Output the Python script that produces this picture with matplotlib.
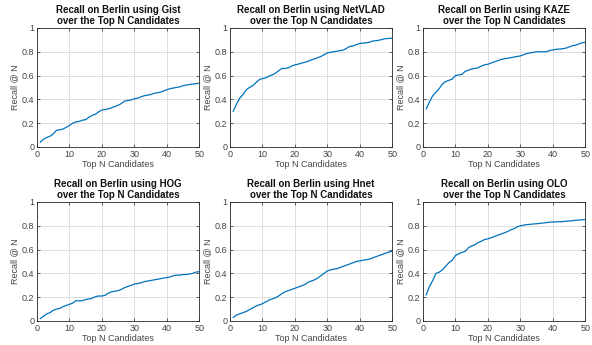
import numpy as np
import matplotlib
matplotlib.use('Agg')
import matplotlib.pyplot as plt

plt.rcParams['font.family'] = ['Liberation Sans', 'DejaVu Sans']

n = np.arange(1, 51)

gist = [0.04, 0.065, 0.08, 0.09, 0.11, 0.14, 0.145, 0.15, 0.165, 0.18,
        0.20, 0.21, 0.215, 0.225, 0.23, 0.25, 0.265, 0.275, 0.295, 0.31,
        0.315, 0.32, 0.33, 0.34, 0.35, 0.365, 0.385, 0.39, 0.395, 0.405,
        0.41, 0.42, 0.43, 0.435, 0.44, 0.45, 0.455, 0.46, 0.47, 0.48,
        0.49, 0.495, 0.50, 0.505, 0.515, 0.52, 0.525, 0.528, 0.532, 0.535]
netvlad = [0.30, 0.36, 0.41, 0.44, 0.48, 0.50, 0.515, 0.54, 0.565, 0.575,
           0.58, 0.595, 0.605, 0.62, 0.64, 0.66, 0.66, 0.665, 0.68, 0.69,
           0.695, 0.705, 0.71, 0.72, 0.73, 0.74, 0.75, 0.76, 0.775, 0.79,
           0.795, 0.80, 0.805, 0.81, 0.815, 0.83, 0.845, 0.85, 0.86, 0.87,
           0.872, 0.875, 0.88, 0.89, 0.893, 0.897, 0.905, 0.91, 0.912, 0.915]
kaze = [0.32, 0.38, 0.43, 0.46, 0.49, 0.53, 0.55, 0.56, 0.57, 0.60,
        0.605, 0.61, 0.635, 0.645, 0.655, 0.66, 0.665, 0.68, 0.69, 0.695,
        0.705, 0.715, 0.725, 0.735, 0.74, 0.745, 0.75, 0.755, 0.76, 0.765,
        0.775, 0.785, 0.79, 0.795, 0.80, 0.80, 0.80, 0.80, 0.81, 0.815,
        0.82, 0.822, 0.825, 0.83, 0.84, 0.85, 0.855, 0.865, 0.875, 0.88]
hog = [0.02, 0.04, 0.06, 0.07, 0.09, 0.10, 0.105, 0.12, 0.13, 0.14,
       0.15, 0.17, 0.17, 0.17, 0.18, 0.185, 0.19, 0.205, 0.21, 0.21,
       0.215, 0.235, 0.245, 0.25, 0.255, 0.265, 0.28, 0.29, 0.30, 0.31,
       0.315, 0.32, 0.33, 0.335, 0.34, 0.345, 0.35, 0.355, 0.36, 0.365,
       0.37, 0.38, 0.385, 0.385, 0.39, 0.39, 0.395, 0.40, 0.41, 0.415]
hnet = [0.03, 0.05, 0.06, 0.07, 0.08, 0.095, 0.11, 0.125, 0.135, 0.145,
        0.16, 0.175, 0.185, 0.195, 0.21, 0.23, 0.245, 0.255, 0.265, 0.275,
        0.285, 0.295, 0.305, 0.325, 0.335, 0.345, 0.36, 0.38, 0.40, 0.42,
        0.43, 0.435, 0.44, 0.45, 0.46, 0.47, 0.48, 0.49, 0.50, 0.505,
        0.51, 0.515, 0.52, 0.53, 0.54, 0.55, 0.56, 0.57, 0.58, 0.585]
olo = [0.22, 0.29, 0.34, 0.40, 0.41, 0.43, 0.46, 0.49, 0.51, 0.55,
       0.565, 0.575, 0.585, 0.615, 0.63, 0.64, 0.66, 0.67, 0.685, 0.69,
       0.70, 0.71, 0.72, 0.73, 0.74, 0.75, 0.765, 0.775, 0.79, 0.80,
       0.805, 0.81, 0.812, 0.815, 0.817, 0.82, 0.823, 0.826, 0.83, 0.832,
       0.833, 0.834, 0.835, 0.838, 0.84, 0.843, 0.846, 0.848, 0.85, 0.852]

methods = ['Gist', 'NetVLAD', 'KAZE', 'HOG', 'Hnet', 'OLO']
curves = [gist, netvlad, kaze, hog, hnet, olo]

fig = plt.figure(figsize=(5.92, 3.45), dpi=100)
lefts = [0.0625, 0.3885, 0.7145]
bottoms = [0.574, 0.0696]
w, h = 0.274, 0.345
dark = '#262626'

for i, (name, y) in enumerate(zip(methods, curves)):
    ax = fig.add_axes([lefts[i % 3], bottoms[i // 3], w, h])
    ax.plot(n, y, color='#0072BD', lw=0.9)
    ax.set_xlim(0, 50)
    ax.set_ylim(0, 1)
    ax.set_xticks([0, 10, 20, 30, 40, 50])
    ax.set_yticks([0, 0.2, 0.4, 0.6, 0.8, 1])
    ax.set_yticklabels(['0', '0.2', '0.4', '0.6', '0.8', '1'])
    ax.grid(True, color='#d9d9d9', lw=0.6)
    ax.set_axisbelow(True)
    ax.tick_params(direction='in', length=2, width=0.5, labelsize=6.5,
                   colors=dark, labelcolor='#444444', top=True, right=True, pad=2)
    for s in ax.spines.values():
        s.set_color(dark)
        s.set_linewidth(0.6)
    ax.set_title(f'Recall on Berlin using {name}\nover the Top N Candidates',
                 fontsize=7, fontweight='bold', color='#111111',
                 pad=3, linespacing=1.15)
    ax.set_xlabel('Top N Candidates', fontsize=6.5, color='#444444', labelpad=1)
    ax.set_ylabel('Recall @ N', fontsize=6.5, color='#444444', labelpad=2)

fig.savefig('out.png', dpi=100)
